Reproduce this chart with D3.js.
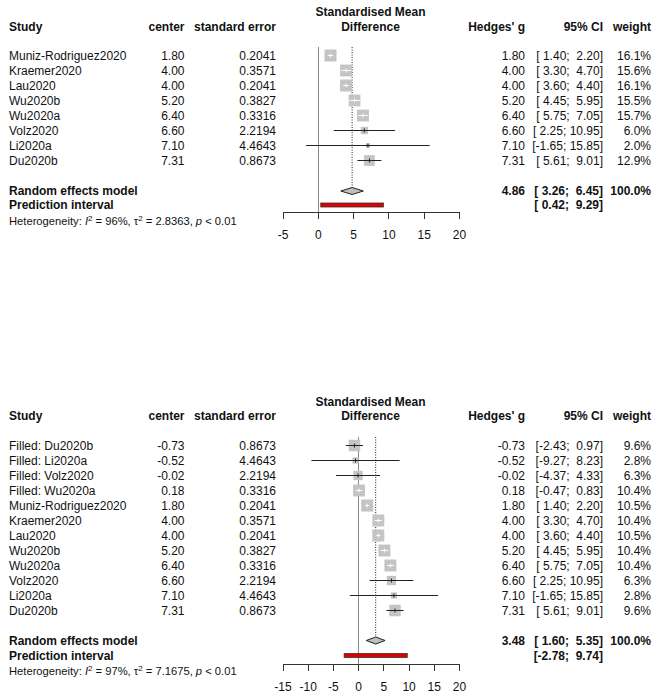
<!DOCTYPE html>
<html><head><meta charset="utf-8">
<script src="https://cdn.jsdelivr.net/npm/d3@7"></script>
<style>
body{margin:0;background:#fff;}
svg text{font-family:"Liberation Sans",Arial,sans-serif;white-space:pre;fill:#111;}
</style></head><body>
<svg id="chart" width="662" height="700"></svg>
<script>
// ---------- top panel data ----------
const topStudies = ["Muniz-Rodriguez2020","Kraemer2020","Lau2020","Wu2020b","Wu2020a","Volz2020","Li2020a","Du2020b"];
const topCenter = [1.80,4.00,4.00,5.20,6.40,6.60,7.10,7.31];
const topSE = [0.2041,0.3571,0.2041,0.3827,0.3316,2.2194,4.4643,0.8673];
const topLower = [1.40,3.30,3.60,4.45,5.75,2.25,-1.65,5.61];
const topUpper = [2.20,4.70,4.40,5.95,7.05,10.95,15.85,9.01];
const topWeight = [16.1,15.6,16.1,15.5,15.7,6.0,2.0,12.9];
const topRandom = [4.86,3.26,6.45];
const topPredict = [0.42,9.29];
const topHet = ["96%","2.8363"];
const topTicks = [-5,0,5,10,15,20];

// ---------- bottom panel data ----------
const botStudies = ["Filled: Du2020b","Filled: Li2020a","Filled: Volz2020","Filled: Wu2020a","Muniz-Rodriguez2020","Kraemer2020","Lau2020","Wu2020b","Wu2020a","Volz2020","Li2020a","Du2020b"];
const botCenter = [-0.73,-0.52,-0.02,0.18,1.80,4.00,4.00,5.20,6.40,6.60,7.10,7.31];
const botSE = [0.8673,4.4643,2.2194,0.3316,0.2041,0.3571,0.2041,0.3827,0.3316,2.2194,4.4643,0.8673];
const botLower = [-2.43,-9.27,-4.37,-0.47,1.40,3.30,3.60,4.45,5.75,2.25,-1.65,5.61];
const botUpper = [0.97,8.23,4.33,0.83,2.20,4.70,4.40,5.95,7.05,10.95,15.85,9.01];
const botWeight = [9.6,2.8,6.3,10.4,10.5,10.4,10.5,10.4,10.4,6.3,2.8,9.6];
const botRandom = [3.48,1.60,5.35];
const botPredict = [-2.78,9.74];
const botHet = ["97%","7.1675"];
const botTicks = [-15,-10,-5,0,5,10,15,20];

const svg = d3.select("#chart");

function pad(s, n){ while (s.length < n) s = " " + s; return s; }
function fmtCI(lo, hi){ return "[" + pad(lo.toFixed(2),5) + "; " + pad(hi.toFixed(2),5) + "]"; }

function drawPanel(d, L){
  const g = svg.append("g");
  const x = d3.scaleLinear().domain([d.ticks[0], d.ticks[d.ticks.length-1]]).range([282.5, 459]);
  const rowY = i => L.row0 + i*15;
  const maxW = d3.max(d.weight);

  const txt = (xx, yy, s, anchor, bold, size) => g.append("text")
      .attr("x", xx).attr("y", yy).attr("dy","0.35em")
      .attr("text-anchor", anchor||"start")
      .attr("font-size", size||12)
      .attr("font-weight", bold?"bold":"normal")
      .text(s);
  txt(9, L.head, "Study", "start", true);
  txt(184.5, L.head, "center", "end", true);
  txt(276, L.head, "standard error", "end", true);
  txt(370.5, L.title, "Standardised Mean", "middle", true);
  txt(370.5, L.head, "Difference", "middle", true);
  txt(525, L.head, "Hedges' g", "end", true);
  txt(603, L.head, "95% CI", "end", true);
  txt(651, L.head, "weight", "end", true);

  d.studies.forEach((s,i)=>{
    const y = rowY(i);
    txt(9, y, s);
    txt(184.5, y, d.center[i].toFixed(2), "end");
    txt(276, y, d.se[i].toFixed(4), "end");
    txt(525, y, d.center[i].toFixed(2), "end");
    txt(603, y, fmtCI(d.lower[i], d.upper[i]), "end");
    txt(651, y, d.weight[i].toFixed(1)+"%", "end");
  });

  g.append("line").attr("x1", Math.round(x(0))+0.5).attr("x2", Math.round(x(0))+0.5)
    .attr("y1", L.zeroTop).attr("y2", L.axisY).attr("stroke","#888").attr("stroke-width",1);
  g.append("line").attr("x1", x(d.random[0])).attr("x2", x(d.random[0]))
    .attr("y1", L.zeroTop).attr("y2", L.re-3.5).attr("stroke","#222").attr("stroke-width",1)
    .attr("stroke-dasharray","1,1.5");

  d.studies.forEach((s,i)=>{
    const y = rowY(i);
    const side = 12*Math.sqrt(d.weight[i]/maxW);
    const cx = x(d.center[i]);
    g.append("rect").attr("x", cx-side/2).attr("y", y-side/2)
      .attr("width", side).attr("height", side).attr("fill","#c4c4c4");
    const inside = (x(d.upper[i]) - x(d.lower[i])) <= side;
    const col = inside ? "#fff" : "#222";
    g.append("line").attr("x1", x(d.lower[i])).attr("x2", x(d.upper[i]))
      .attr("y1", y).attr("y2", y).attr("stroke", col).attr("stroke-width",1);
    g.append("line").attr("x1", cx).attr("x2", cx)
      .attr("y1", y-2).attr("y2", y+2).attr("stroke", col).attr("stroke-width",1);
  });

  txt(9, L.re, "Random effects model", "start", true);
  txt(9, L.pi, "Prediction interval", "start", true);
  txt(525, L.re, d.random[0].toFixed(2), "end", true);
  txt(603, L.re, fmtCI(d.random[1], d.random[2]), "end", true);
  txt(651, L.re, "100.0%", "end", true);
  txt(603, L.pi, fmtCI(d.predict[0], d.predict[1]), "end", true);

  const h = 3.5;
  g.append("path")
    .attr("d", `M${x(d.random[1])},${L.re} L${x(d.random[0])},${L.re-h} L${x(d.random[2])},${L.re} L${x(d.random[0])},${L.re+h} Z`)
    .attr("fill","#bebebe").attr("stroke","#222").attr("stroke-width",1);

  g.append("rect").attr("x", x(d.predict[0])).attr("y", L.pi-2)
    .attr("width", x(d.predict[1]) - x(d.predict[0])).attr("height", 4)
    .attr("fill","#e00000").attr("stroke","#333").attr("stroke-width",0.8);

  const het = g.append("text").attr("x", 9).attr("y", L.het).attr("dy","0.35em").attr("font-size", 11.2);
  het.append("tspan").text("Heterogeneity: ");
  het.append("tspan").attr("font-style","italic").text("I");
  het.append("tspan").attr("font-size",8).attr("dy",-4).text("2");
  het.append("tspan").attr("dy",4).text(" = " + d.het[0] + ", τ");
  het.append("tspan").attr("font-size",8).attr("dy",-4).text("2");
  het.append("tspan").attr("dy",4).text(" = " + d.het[1] + ", ");
  het.append("tspan").attr("font-style","italic").text("p");
  het.append("tspan").text(" < 0.01");

  const ax = g.append("g").attr("transform", `translate(0,${L.axisY})`)
    .call(d3.axisBottom(x).tickValues(d.ticks).tickSize(7).tickSizeOuter(0).tickPadding(11)
      .tickFormat(v => String(v)));
  ax.selectAll("path,line").attr("stroke","#333").attr("shape-rendering","crispEdges");
  ax.selectAll("text").attr("font-size",12).attr("font-family","Liberation Sans, Arial, sans-serif").attr("fill","#111");
}

drawPanel(
  {studies: topStudies, center: topCenter, se: topSE, lower: topLower, upper: topUpper,
   weight: topWeight, random: topRandom, predict: topPredict, het: topHet, ticks: topTicks},
  {title: 12, head: 26.5, row0: 55.5, zeroTop: 47, re: 191, pi: 205, het: 221, axisY: 212}
);
drawPanel(
  {studies: botStudies, center: botCenter, se: botSE, lower: botLower, upper: botUpper,
   weight: botWeight, random: botRandom, predict: botPredict, het: botHet, ticks: botTicks},
  {title: 402, head: 416, row0: 445.5, zeroTop: 437, re: 640.5, pi: 655.5, het: 671, axisY: 664}
);
</script>
</body></html>
